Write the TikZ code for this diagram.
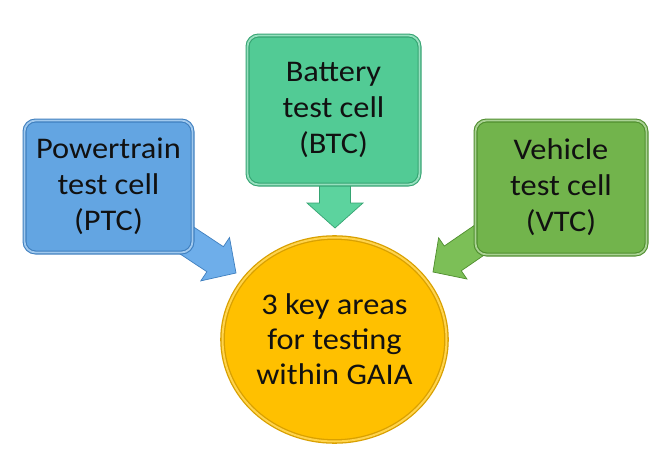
\documentclass[tikz,border=0pt]{standalone}
\usepackage{fontspec}
\setmainfont{Carlito}[FakeStretch=1.08]
\usetikzlibrary{shapes.geometric}
\definecolor{ptcfill}{HTML}{63A5E2}
\definecolor{ptcedge}{HTML}{3F7FBF}
\definecolor{ptcarrow}{HTML}{6EAEEA}
\definecolor{btcfill}{HTML}{52CB95}
\definecolor{btcedge}{HTML}{35A472}
\definecolor{btcarrow}{HTML}{5CD39E}
\definecolor{vtcfill}{HTML}{72B44C}
\definecolor{vtcedge}{HTML}{4F8E2E}
\definecolor{vtcarrow}{HTML}{7CBF57}
\definecolor{gaiafill}{HTML}{FFC000}
\definecolor{gaiaedge}{HTML}{D9A000}
\definecolor{txt}{HTML}{111111}
\tikzset{
  cellbox/.style={rectangle, rounded corners=11pt, line width=1.1pt,
    double distance=1.8pt, inner sep=0pt, align=center, text=txt,
    font=\fontsize{30}{36}\selectfont},
  hubellipse/.style={ellipse, line width=1.3pt, double=gaiafill!70!white,
    double distance=2pt, draw=gaiaedge, fill=gaiafill, inner sep=0pt,
    align=center, text=txt, font=\fontsize{30}{35}\selectfont},
  blockarrow/.style={line width=0.7pt, line join=miter}
}
\begin{document}
\begin{tikzpicture}[x=1pt,y=-1pt]
\useasboundingbox (0,0) rectangle (672,463);
\fill[white] (0,0) rectangle (672,463);
% arrows (behind the boxes)
\coordinate (ptctip) at (236,273);
\coordinate (btctip) at (335,228);
\coordinate (vtctip) at (433,272);
\begin{scope}[shift={(ptctip)}, rotate=-33.5]
  \filldraw[blockarrow, fill=ptcarrow, draw=ptcedge]
    (0,0) -- (-25,26) -- (-25,15) -- (-82,15) -- (-82,-15) -- (-25,-15) -- (-25,-26) -- cycle;
\end{scope}
\begin{scope}[shift={(btctip)}, rotate=-90]
  \filldraw[blockarrow, fill=btcarrow, draw=btcedge]
    (0,0) -- (-25,28) -- (-25,15.5) -- (-60,15.5) -- (-60,-15.5) -- (-25,-15.5) -- (-25,-28) -- cycle;
\end{scope}
\begin{scope}[shift={(vtctip)}, rotate=214.5]
  \filldraw[blockarrow, fill=vtcarrow, draw=vtcedge]
    (0,0) -- (-24,25) -- (-24,15) -- (-78,15) -- (-78,-15) -- (-24,-15) -- (-24,-25) -- cycle;
\end{scope}
% boxes
\node[cellbox, draw=ptcedge, double=ptcfill!60!white, fill=ptcfill,
  minimum width=168pt, minimum height=132pt] (ptc) at (108.5,186.5)
  {Powertrain\\test cell\\(PTC)};
\node[cellbox, draw=btcedge, double=btcfill!60!white, fill=btcfill,
  minimum width=172pt, minimum height=149pt] (btc) at (333.5,110)
  {Battery\\test cell\\(BTC)};
\node[cellbox, draw=vtcedge, double=vtcfill!60!white, fill=vtcfill,
  minimum width=171pt, minimum height=134pt] (vtc) at (561,187.5)
  {Vehicle\\test cell\\(VTC)};
% hub
\node[hubellipse, minimum width=224pt, minimum height=204pt] (gaia) at (334.5,339.5)
  {3 key areas\\for testing\\within GAIA};
\end{tikzpicture}
\end{document}
